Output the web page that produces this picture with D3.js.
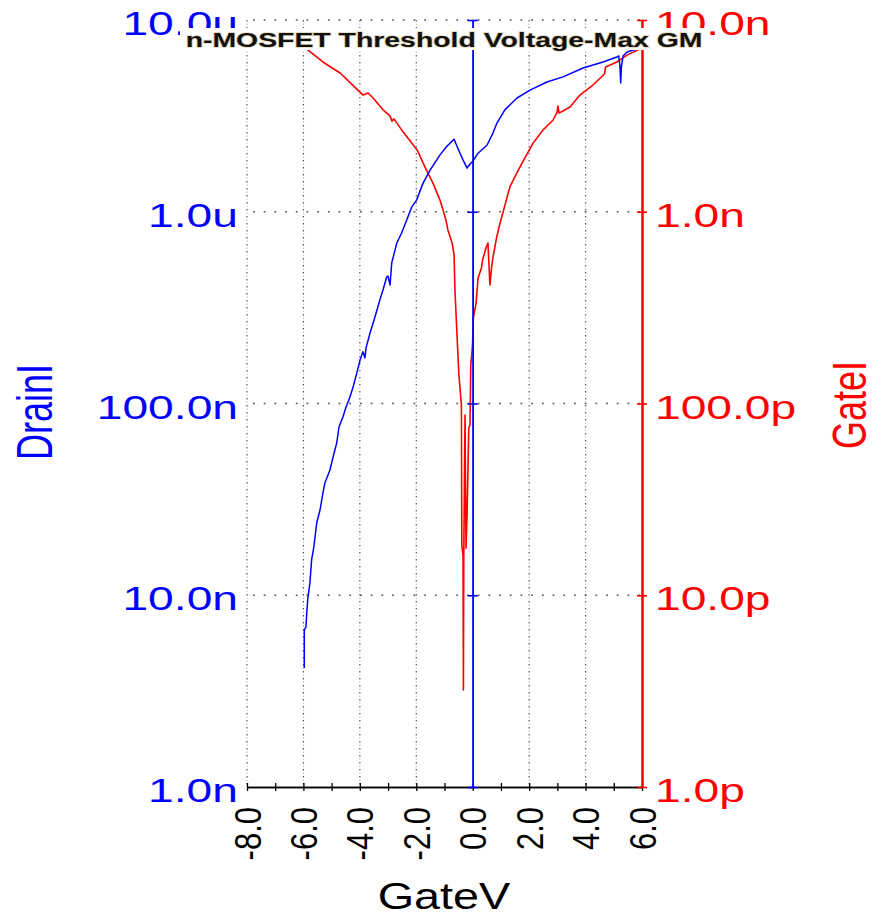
<!DOCTYPE html>
<html><head><meta charset="utf-8">
<script src="https://cdn.jsdelivr.net/npm/d3@7"></script>
<style>body{margin:0;background:#fff}svg{display:block}</style>
</head><body><svg id="c" width="877" height="916"></svg>
<script>
// ---- data ----
const drainV = [-5.97,-5.97,-5.91,-5.88,-5.84,-5.77,-5.71,-5.63,-5.53,-5.41,-5.31,-5.24,-5.06,-4.95,-4.82,-4.74,-4.60,-4.49,-4.35,-4.24,-4.11,-3.99,-3.89,-3.82,-3.78,-3.64,-3.53,-3.39,-3.29,-3.18,-3.05,-3.00,-2.93,-2.87,-2.69,-2.52,-2.34,-2.16,-1.99,-1.76,-1.51,-1.16,-0.91,-0.66,-0.45,-0.34,-0.20,-0.10,0.01,0.19,0.51,0.72,0.86,1.14,1.57,2.03,2.63,3.20,3.91,4.62,5.11,5.18,5.22,5.245,5.27,5.33,5.47,5.82,6.00];
const drainI = [4.18e-9,6.59e-9,6.83e-9,8.2e-9,9.7e-9,1.16e-8,1.53e-8,1.79e-8,2.38e-8,2.79e-8,3.41e-8,3.85e-8,4.50e-8,5.26e-8,6.22e-8,7.54e-8,8.51e-8,9.59e-8,1.08e-7,1.22e-7,1.44e-7,1.69e-7,1.86e-7,1.73e-7,1.95e-7,2.33e-7,2.63e-7,3.08e-7,3.47e-7,3.91e-7,4.57e-7,4.62e-7,4.15e-7,5.41e-7,6.87e-7,7.75e-7,9.06e-7,1.06e-6,1.15e-6,1.41e-6,1.65e-6,1.98e-6,2.20e-6,2.39e-6,2.02e-6,1.86e-6,1.69e-6,1.77e-6,1.84e-6,2.02e-6,2.23e-6,2.58e-6,2.90e-6,3.40e-6,3.92e-6,4.31e-6,4.75e-6,5.05e-6,5.62e-6,6.04e-6,6.41e-6,6.49e-6,5.69e-6,4.69e-6,5.69e-6,6.49e-6,6.81e-6,7.06e-6,7.23e-6];
const gateV = [-5.97,-5.31,-4.70,-4.07,-3.89,-3.71,-3.53,-3.18,-2.93,-2.86,-2.79,-2.47,-1.97,-1.69,-1.41,-1.16,-1.05,-0.95,-0.88,-0.73,-0.66,-0.63,-0.56,-0.49,-0.43,-0.40,-0.387,-0.344,-0.33,-0.316,-0.273,-0.238,-0.20,-0.14,-0.096,-0.068,-0.007,0.02,0.12,0.19,0.31,0.35,0.47,0.54,0.61,0.67,0.72,0.85,0.97,1.14,1.32,1.56,1.85,2.14,2.49,2.85,2.99,3.02,3.06,3.45,3.80,4.26,4.67,4.71,5.11,5.47,6.00];
const gateI = [7.23e-9,6.04e-9,5.29e-9,4.31e-9,4.06e-9,4.16e-9,3.92e-9,3.40e-9,3.16e-9,2.97e-9,3.05e-9,2.61e-9,2.10e-9,1.71e-9,1.41e-9,1.15e-9,1.02e-9,9.06e-10,8.04e-10,6.87e-10,5.94e-10,3.91e-10,2.33e-10,1.41e-10,1.11e-10,9.82e-11,1.83e-11,1.62e-11,3.21e-12,1.62e-11,8.71e-11,1.76e-11,2.62e-11,7.45e-11,7.72e-11,1.59e-10,2.02e-10,2.79e-10,3.34e-10,4.52e-10,5.09e-10,5.60e-10,6.47e-10,6.87e-10,4.15e-10,5.15e-10,5.81e-10,7.38e-10,8.73e-10,1.08e-9,1.35e-9,1.59e-9,1.91e-9,2.28e-9,2.67e-9,3.01e-9,3.31e-9,3.56e-9,3.27e-9,3.52e-9,4.06e-9,4.58e-9,5.23e-9,5.69e-9,6.04e-9,6.56e-9,7.14e-9];
const xTicks = [-8,-6,-4,-2,0,2,4,6];
const xTickLabels = ["-8.0","-6.0","-4.0","-2.0","0.0","2.0","4.0","6.0"];
const xMinorTicks = [-8,-7,-6,-5,-4,-3,-2,-1,0,1,2,3,4,5,6];
const leftTicks = [1e-9,1e-8,1e-7,1e-6,1e-5];
const leftTickLabels = ["1.0n","10.0n","100.0n","1.0u","10.0u"];
const rightTicks = [1e-12,1e-11,1e-10,1e-9,1e-8];
const rightTickLabels = ["1.0p","10.0p","100.0p","1.0n","10.0n"];
const titleText = "n-MOSFET Threshold Voltage-Max GM";

const FONT = "'Liberation Sans', Arial, sans-serif";
const BLUE = "#0000ff", RED = "#ff0000";
const svg = d3.select("#c");
const x = d3.scaleLinear().domain([-8,6]).range([247,642]);
const yL = d3.scaleLog().domain([1e-9,1e-5]).range([787,20]);
const yR = d3.scaleLog().domain([1e-12,1e-8]).range([787,20]);

// gridlines
const grid = svg.append("g");
xTicks.filter(v => v !== 0 && v !== 6).forEach(v => {
  grid.append("line").attr("x1",x(v)).attr("x2",x(v)).attr("y1",20).attr("y2",787)
    .attr("stroke","#555").attr("stroke-width",1.2).attr("stroke-dasharray","1.4 5.6");
  grid.append("line").attr("x1",x(v)).attr("x2",x(v)).attr("y1",20).attr("y2",787)
    .attr("stroke","#bbb").attr("stroke-width",1).attr("stroke-dasharray","1.4 5.6").attr("stroke-dashoffset",-3.5);
});
leftTicks.filter(v => v !== 1e-9).forEach(v => {
  grid.append("line").attr("x1",247).attr("x2",642).attr("y1",yL(v)).attr("y2",yL(v))
    .attr("stroke","#555").attr("stroke-width",1.6).attr("stroke-dasharray","1.8 8.9").attr("stroke-dashoffset",-6);
});

// curves
const lineL = d3.line().x(d => x(d[0])).y(d => yL(d[1]));
const lineR = d3.line().x(d => x(d[0])).y(d => yR(d[1]));
svg.append("path").datum(gateV.map((v,i)=>[v,gateI[i]])).attr("d",lineR)
  .attr("fill","none").attr("stroke",RED).attr("stroke-width",1.6).attr("stroke-linejoin","round");
svg.append("path").datum(drainV.map((v,i)=>[v,drainI[i]])).attr("d",lineL)
  .attr("fill","none").attr("stroke",BLUE).attr("stroke-width",1.5).attr("stroke-linejoin","round");

// bottom axis
const gB = svg.append("g").attr("transform","translate(0,787)");
gB.call(d3.axisBottom(x).tickValues(xMinorTicks).tickSizeInner(4).tickSizeOuter(0).tickFormat(""));
gB.call(g => g.append("g").call(d3.axisTop(x).tickValues(xMinorTicks).tickSizeInner(4).tickSizeOuter(0).tickFormat("")));
gB.selectAll("path.domain").attr("stroke","#000").attr("stroke-width",1.5);
gB.selectAll("line").attr("stroke","#000").attr("stroke-width",1.3);

// blue axis at x=0
const gBl = svg.append("g").attr("transform",`translate(${x(0)},0)`);
gBl.call(d3.axisLeft(yL).tickValues(leftTicks).tickSizeInner(5).tickSizeOuter(0).tickFormat(""));
gBl.append("g").call(d3.axisRight(yL).tickValues(leftTicks).tickSizeInner(5).tickSizeOuter(0).tickFormat(""));
gBl.selectAll("path.domain").attr("stroke",BLUE).attr("stroke-width",1.6);
gBl.selectAll("line").attr("stroke",BLUE).attr("stroke-width",1.6);

// red axis at x=6
const gRd = svg.append("g").attr("transform",`translate(${x(6)},0)`);
gRd.call(d3.axisLeft(yR).tickValues(rightTicks).tickSizeInner(5).tickSizeOuter(0).tickFormat(""));
gRd.append("g").call(d3.axisRight(yR).tickValues(rightTicks).tickSizeInner(5).tickSizeOuter(0).tickFormat(""));
gRd.selectAll("path.domain").attr("stroke",RED).attr("stroke-width",2);
gRd.selectAll("line").attr("stroke",RED).attr("stroke-width",1.6);

// left tick labels
svg.append("g").selectAll("text").data(leftTicks).join("text")
  .attr("transform", d => `translate(238,${yL(d)+15}) scale(1.4,1)`)
  .attr("text-anchor","end").attr("font-family",FONT).attr("font-size",33).attr("fill",BLUE)
  .text((d,i) => leftTickLabels[i]);
// right tick labels
svg.append("g").selectAll("text").data(rightTicks).join("text")
  .attr("transform", d => `translate(655,${yR(d)+15}) scale(1.4,1)`)
  .attr("text-anchor","start").attr("font-family",FONT).attr("font-size",33).attr("fill",RED)
  .text((d,i) => rightTickLabels[i]);
// x tick labels (rotated)
svg.append("g").selectAll("text").data(xTicks).join("text")
  .attr("transform", d => `translate(${x(d)+13.5},807) rotate(-90) scale(1,1.22)`)
  .attr("text-anchor","end").attr("font-family",FONT).attr("font-size",31).attr("fill","#000")
  .text((d,i) => xTickLabels[i]);

// title with white box
svg.append("rect").attr("x",180).attr("y",28).attr("width",526).attr("height",22).attr("fill","#fff");
svg.append("text").attr("transform","translate(444,47) scale(1.42,1)").attr("text-anchor","middle")
  .attr("font-family",FONT).attr("font-weight","bold").attr("font-size",20)
  .attr("fill","none").attr("stroke","#c9b27a").attr("stroke-width",1.4).attr("stroke-opacity",0.55).text(titleText);
svg.append("text").attr("transform","translate(444,47) scale(1.42,1)").attr("text-anchor","middle")
  .attr("font-family",FONT).attr("font-weight","bold").attr("font-size",20).attr("fill","#111").text(titleText);

// axis titles
svg.append("text").attr("transform","translate(444,909) scale(1.3,1)").attr("text-anchor","middle")
  .attr("font-family",FONT).attr("font-size",36).attr("fill","#000").text("GateV");
svg.append("text").attr("transform","translate(52,412) rotate(-90) scale(1,1.4)").attr("text-anchor","middle")
  .attr("font-family",FONT).attr("font-size",36).attr("fill",BLUE).text("DrainI");
svg.append("text").attr("transform","translate(866,405) rotate(-90) scale(1,1.35)").attr("text-anchor","middle")
  .attr("font-family",FONT).attr("font-size",36).attr("fill",RED).text("GateI");
</script></body></html>
